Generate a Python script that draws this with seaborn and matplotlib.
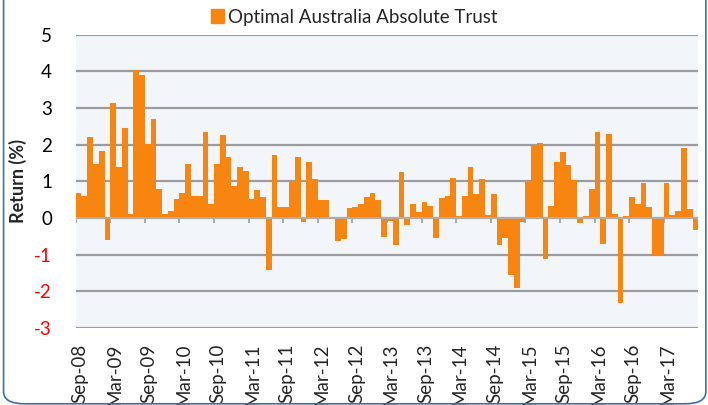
import matplotlib
matplotlib.use("Agg")
from matplotlib import pyplot as plt
from matplotlib.patches import Patch, FancyBboxPatch
from matplotlib.transforms import ScaledTranslation
import seaborn as sns
import numpy as np
import pandas as pd

# monthly returns (%), Sep-08 .. Aug-17
returns = [
    0.69, 0.60, 2.21, 1.48, 1.83, -0.59, 3.13, 1.39, 2.45, 0.11, 4.03, 3.90,
    2.02, 2.69, 0.78, 0.11, 0.18, 0.53, 0.69, 1.46, 0.61, 0.59, 2.35, 0.37,
    1.46, 2.25, 1.67, 0.87, 1.38, 1.27, 0.52, 0.75, 0.58, -1.42, 1.71, 0.31,
    0.31, 0.99, 1.65, -0.12, 1.52, 1.05, 0.48, 0.48, 0.0, -0.63, -0.57, 0.27,
    0.30, 0.38, 0.58, 0.67, 0.48, -0.53, -0.08, -0.73, 1.24, -0.20, 0.37, 0.15,
    0.44, 0.33, -0.55, 0.55, 0.59, 1.08, 0.05, 0.59, 1.39, 0.65, 1.05, 0.08,
    0.65, -0.75, -0.56, -1.56, -1.92, -0.12, 0.99, 1.98, 2.05, -1.12, 0.32, 1.53,
    1.80, 1.44, 1.03, -0.14, 0.04, 0.78, 2.35, -0.71, 2.30, 0.12, -2.31, 0.04,
    0.57, 0.37, 0.95, 0.30, -1.03, -1.03, 0.95, 0.09, 0.18, 1.90, 0.25, -0.33,
]
months = pd.date_range("2008-09-01", periods=len(returns), freq="MS").strftime("%b-%y").tolist()
tick_labels = ["Sep-08", "Mar-09", "Sep-09", "Mar-10", "Sep-10", "Mar-11", "Sep-11",
               "Mar-12", "Sep-12", "Mar-13", "Sep-13", "Mar-14", "Sep-14", "Mar-15",
               "Sep-15", "Mar-16", "Sep-16", "Mar-17"]
series_name = "Optimal Australia Absolute Trust"

df = pd.DataFrame({"month": months, "ret": returns})

sns.set_style("white")
plt.rcParams["font.family"] = ["Lato", "DejaVu Sans"]

orange = "#F8850F"
fig = plt.figure(figsize=(7.08, 4.05), dpi=100)
ax = fig.add_axes([0.1069, 0.1901, 0.8794, 0.7247])
ax.set_facecolor("#F2F5FA")

sns.barplot(data=df, x="month", y="ret", order=months, color=orange,
            width=1.0, linewidth=0, saturation=1, ax=ax, zorder=3)

ax.set_xlim(-0.5, len(months) - 0.5)
ax.set_ylim(-3, 5)
ax.set_yticks(range(-3, 6))
ax.set_yticklabels([str(v) for v in range(-3, 6)])
for lab, v in zip(ax.get_yticklabels(), range(-3, 6)):
    lab.set_color("red" if v < 0 else "black")
ax.yaxis.grid(True, color="#9C9C9C", linewidth=1.6, zorder=1)
ax.tick_params(axis="y", length=0, pad=17, labelsize=13.5)

tick_pos = [months.index(t) - 0.5 for t in tick_labels]
ax.set_xticks(tick_pos)
ax.set_xticklabels(tick_labels, rotation=90, fontsize=13.5)
ax.tick_params(axis="x", length=0, pad=11)
shift = ScaledTranslation(4 / 100, 0, fig.dpi_scale_trans)
for lab in ax.get_xticklabels():
    lab.set_transform(lab.get_transform() + shift)
# small tick marks hang below the zero line
ax.vlines(tick_pos + [len(months) - 0.5], 0, -0.13, color="#9C9C9C", linewidth=1.2, zorder=4)
ax.axhline(0, color="#B0B0B0", linewidth=1.2, zorder=4)

for s in ax.spines.values():
    s.set_visible(False)
ax.set_xlabel("")
ax.set_ylabel("Return (%)", fontsize=13, fontweight="bold")
ax.yaxis.set_label_coords(-0.078, 0.5)

fig.legend(handles=[Patch(color=orange, label=series_name)], loc="center",
           bbox_to_anchor=(0.50, 0.958), frameon=False, fontsize=13.5,
           handlelength=0.7, handleheight=0.7, handletextpad=0.2)

# rounded chart border, cut off at the top like the source
fig.patches.append(FancyBboxPatch((0.005, 0.003), 0.992, 1.1, boxstyle="round,pad=0,rounding_size=0.03",
                                  transform=fig.transFigure, fill=False, edgecolor="#3D6DB5",
                                  linewidth=1.2, figure=fig))

fig.savefig("out.png", dpi=100)
